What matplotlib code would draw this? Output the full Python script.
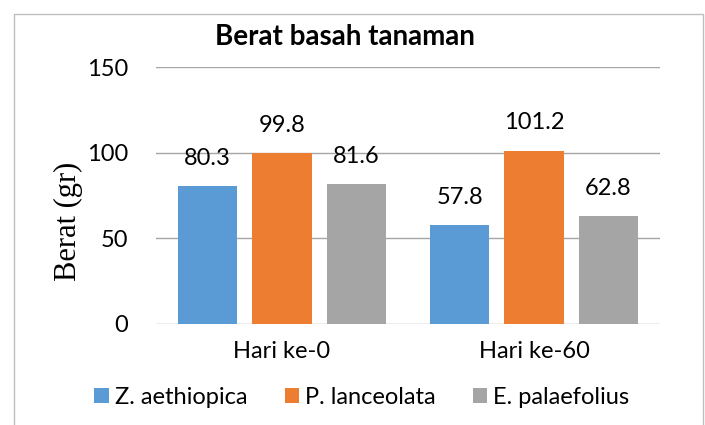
import matplotlib
matplotlib.use("Agg")
import matplotlib.pyplot as plt
import numpy as np
from matplotlib.patches import Rectangle

plt.rcParams['font.family'] = ['Lato', 'DejaVu Sans']

days = ['Hari ke-0', 'Hari ke-60']
species = ['Z. aethiopica', 'P. lanceolata', 'E. palaefolius']
z_aethiopica = [80.3, 57.8]
p_lanceolata = [99.8, 101.2]
e_palaefolius = [81.6, 62.8]
colors = ['#5B9BD5', '#ED7D31', '#A5A5A5']

fig = plt.figure(figsize=(7.05, 4.25), dpi=100)
ax = fig.add_axes([156 / 705, 1 - 324 / 425, 504 / 705, 257 / 425])

x = np.arange(len(days))
width = 0.235
step = 0.295
series = [z_aethiopica, p_lanceolata, e_palaefolius]

for i, vals in enumerate(series):
    pos = x + (i - 1) * step
    ax.bar(pos, vals, width, color=colors[i], label=species[i], zorder=3)
    for px, v in zip(pos, vals):
        ax.annotate(f'{v}', (px, v), xytext=(0, 20), textcoords='offset points',
                    ha='center', va='center', fontsize=17, color='#000000')

ax.set_xlim(-0.5, 1.5)
ax.set_ylim(0, 150)
ax.set_yticks([0, 50, 100, 150])
ax.set_xticks(x)
ax.set_xticklabels(days, fontsize=17)
ax.tick_params(axis='y', labelsize=17, length=0, pad=20)
ax.tick_params(axis='x', length=0, pad=12)
ax.grid(axis='y', color='#A6A6A6', linewidth=1, zorder=0)
for s in ax.spines.values():
    s.set_visible(False)

# y label placed by hand, right edge close to the tick labels
fig.text(83 / 705, 1 - 221 / 425, 'Berat (gr)', rotation=90, ha='right', va='center',
         fontsize=22, family=['Liberation Serif', 'DejaVu Serif'])

fig.text(345 / 705, 1 - 37 / 425, 'Berat basah tanaman', ha='center', va='center',
         fontsize=20, fontweight='bold')

fig.legend(loc='center', bbox_to_anchor=(362 / 705, 1 - 397 / 425), ncol=3,
           frameon=False, fontsize=17, handlelength=0.6, handleheight=0.6,
           handletextpad=0.25, columnspacing=1.6)

fig.add_artist(Rectangle((14 / 705, -0.1), 689 / 705, 1.1 - 14 / 425,
                         transform=fig.transFigure, fill=False,
                         edgecolor='#BFBFBF', linewidth=1))

fig.savefig('out.png', dpi=100)
